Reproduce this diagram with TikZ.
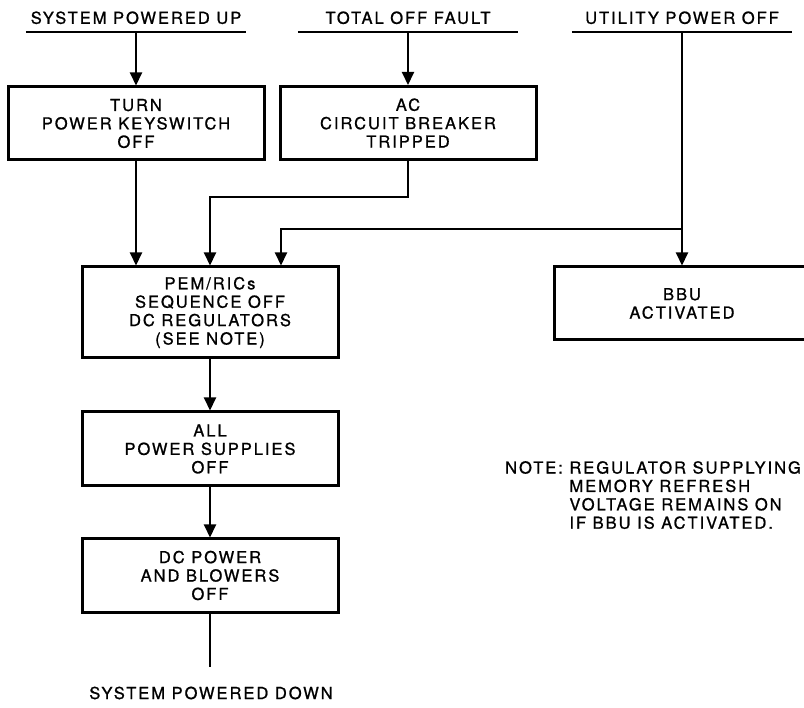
\documentclass[tikz,border=0pt]{standalone}
\usepackage{fontspec}
\setmainfont{TeX Gyre Heros}[LetterSpace=12, FakeBold=1]
\usetikzlibrary{arrows.meta}

\begin{document}
\begin{tikzpicture}[x=1pt, y=-1pt]

\tikzstyle{every node}=[font=\fontsize{16.5}{18.4}\selectfont]
\tikzstyle{box}=[draw, line width=3pt, minimum width=256pt, minimum height=73pt, align=center, inner sep=2pt]
\tikzstyle{event}=[minimum width=220pt, text height=12pt, text depth=0pt, inner xsep=0pt, inner ysep=8pt]
\tikzstyle{edge}=[-{Triangle[length=13pt, width=12pt]}, line width=2pt]
\tikzstyle{wire}=[line width=2pt]

\useasboundingbox (0,0) rectangle (804,708);

% starting events
\node[event, anchor=south] (powered_up) at (136,32) {SYSTEM POWERED UP};
\node[event, anchor=south] (total_off) at (408,32) {TOTAL OFF FAULT};
\node[event, anchor=south] (utility_off) at (682,32) {UTILITY POWER OFF};
\foreach \ev in {powered_up, total_off, utility_off}
  \draw[wire] (\ev.south west) -- (\ev.south east);

% steps
\node[box] (keyswitch) at (136,123.5) {TURN\\POWER KEYSWITCH\\OFF};
\node[box] (breaker) at (408,123) {AC\\CIRCUIT BREAKER\\TRIPPED};
\node[box, minimum height=91pt] (pem) at (210,312.5) {PEM/RICs\\SEQUENCE OFF\\DC REGULATORS\\(SEE NOTE)};
\node[box] (bbu) at (682,303.5) {BBU\\ACTIVATED};
\node[box, minimum height=74pt] (supplies) at (210,449) {ALL\\POWER SUPPLIES\\OFF};
\node[box] (blowers) at (210,575.5) {DC POWER\\AND BLOWERS\\OFF};

\node (powered_down) at (211,693) {SYSTEM POWERED DOWN};
\coordinate (stop) at (210,667);
\coordinate (tap) at (682,229);

\node[anchor=north west, align=left, inner sep=0pt] (note) at (505,461)
  {NOTE: REGULATOR SUPPLYING\\\hphantom{NOTE:\ }MEMORY REFRESH\\\hphantom{NOTE:\ }VOLTAGE REMAINS ON\\\hphantom{NOTE:\ }IF BBU IS ACTIVATED.};

\draw[edge] (powered_up.south) -- (keyswitch);
\draw[edge] (total_off.south) -- (breaker);
\draw[edge] (utility_off.south) -- (bbu);
\draw[edge] (keyswitch.south) -- (keyswitch.south |- pem.north);
\draw[edge] (breaker.south) -- ++(0,36) -| (pem.north);
\draw[edge] (tap) -| ([xshift=71pt]pem.north);
\draw[edge] (pem) -- (supplies);
\draw[edge] (supplies) -- (blowers);
\draw[wire] (blowers) -- (stop);

\end{tikzpicture}
\end{document}
